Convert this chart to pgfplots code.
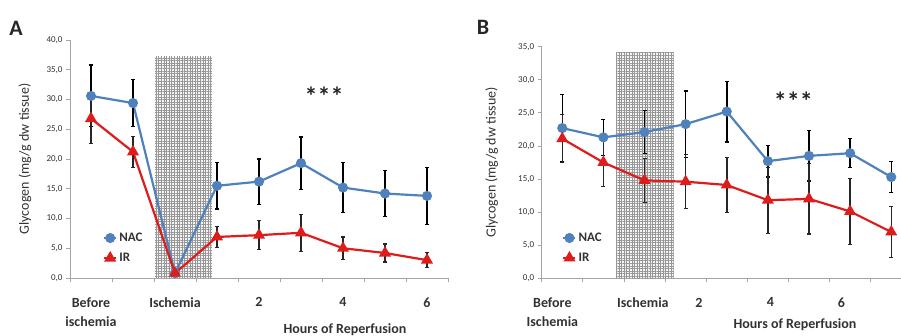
\documentclass[border=0pt]{standalone}
\usepackage{fontspec}
\setmainfont{Carlito}
\usepackage{pgfplots}
\usepackage{pgfplotstable}
\pgfplotsset{compat=1.18}
\usetikzlibrary{patterns.meta}
\definecolor{nacblue}{RGB}{79,129,189}
\definecolor{irred}{RGB}{222,28,28}
\definecolor{axgray}{RGB}{165,165,165}
\definecolor{txt}{RGB}{50,50,50}
\definecolor{hatch}{RGB}{150,150,150}

\pgfplotstableread{
x y e
0 30.6 5.2
1 29.4 4.0
2 0.8 0.3
3 15.5 3.9
4 16.2 3.8
5 19.3 4.4
6 15.2 4.2
7 14.2 3.8
8 13.8 4.8
}\nacA
\pgfplotstableread{
x y e
0 26.8 4.2
1 21.2 2.6
2 0.8 0.3
3 6.9 1.8
4 7.2 2.4
5 7.6 3.1
6 5.0 1.9
7 4.2 1.5
8 3.0 1.3
}\irA
\pgfplotstableread{
x y e
0 22.7 5.1
1 21.3 2.7
2 22.1 3.2
3 23.3 5.0
4 25.2 4.6
5 17.7 2.4
6 18.5 3.8
7 18.9 2.2
8 15.3 2.3
}\nacB
\pgfplotstableread{
x y e
0 21.1 3.6
1 17.5 3.6
2 14.8 3.3
3 14.6 4.1
4 14.1 4.1
5 11.8 5.0
6 12.0 5.3
7 10.1 5.0
8 7.0 3.8
}\irB

\tikzset{hatchbox/.style={pattern={Lines[angle=#1,distance=2.6pt,line width=0.4pt]}, pattern color=hatch}}

\pgfplotsset{
  glyc/.style={
    scale only axis,
    axis lines*=left,
    axis line style={axgray, line width=0.9pt},
    ymin=0, xmin=-0.5,
    ytick distance=5,
    tick align=outside,
    major tick length=4pt,
    minor tick length=4pt,
    ytick style={axgray, line width=0.8pt},
    major x tick style={draw=none},
    minor x tick style={axgray, line width=0.8pt},
    minor xtick={-0.5,0.5,...,8.5},
    yticklabel style={font=\fontsize{9}{10}\selectfont, color=txt},
    /pgf/number format/fixed,
    /pgf/number format/fixed zerofill,
    /pgf/number format/precision=1,
    /pgf/number format/use comma,
    /pgf/number format/assume math mode=true,
    xticklabel style={font=\fontsize{14}{19}\selectfont\bfseries, align=center, color=txt, yshift=-12pt},
    ylabel style={font=\fontsize{14}{16}\selectfont, color=txt, anchor=center},
    legend style={draw=none, fill=none, font=\fontsize{13}{14}\selectfont\bfseries, text=txt,
      row sep=6pt, inner sep=0pt, anchor=west, legend cell align=left},
    legend image code/.code={\draw[mark repeat=2,mark phase=2,##1] plot coordinates {(0pt,0pt)(6pt,0pt)(12pt,0pt)};},
    clip=false,
  },
  nac/.style={color=nacblue, line width=2.2pt, mark=*, mark size=3.9pt, mark options={solid, fill=nacblue, draw=nacblue}},
  ir/.style={color=irred, line width=2.2pt, mark=triangle*, mark size=4.8pt, mark options={solid, fill=irred, draw=irred}},
  eb/.style={error bars/.cd, y dir=both, y explicit,
    error bar style={#1, line width=1.5pt},
    error mark options={#1, line width=1.2pt, mark size=2pt, rotate=90}},
}

\begin{document}
\begin{tikzpicture}[x=1pt,y=1pt]
\useasboundingbox (0,0) rectangle (901,336);

% Panel A
\begin{axis}[glyc, at={(70pt,58pt)}, anchor=south west,
  width=378pt, height=238pt, xmax=8.5, ymax=40,
  xtick={0,2,4,6,8},
  xticklabels={{Before\\ischemia},Ischemia,2,4,6},
  ylabel={Glycogen (mg/g dw tissue)},
  ylabel style={at={(axis description cs:-0.119,0.5)}},
  legend style={at={(axis description cs:0.087,0.126)}},
]
\fill[gray!8] (axis cs:1.52,0) rectangle (axis cs:2.88,37.2);
\fill[hatchbox=0] (axis cs:1.52,0) rectangle (axis cs:2.88,37.2);
\fill[hatchbox=90] (axis cs:1.52,0) rectangle (axis cs:2.88,37.2);
\addplot[nac, eb=black] table[x=x,y=y,y error=e] {\nacA};
\addplot[ir, eb=black!85] table[x=x,y=y,y error=e] {\irA};
\legend{NAC,IR}
\node[font=\fontsize{26}{26}\selectfont\bfseries, text=black!85] at (axis cs:5.55,30.6) {***};
\end{axis}

% Panel B
\begin{axis}[glyc, at={(541.7pt,57.7pt)}, anchor=south west,
  width=359pt, height=231.6pt, xmax=8.23, ymax=35,
  xtick={-0.24,1.96,3.32,5.06,6.79},
  xticklabels={{Before\\Ischemia},Ischemia,2,4,6},
  ylabel={Glycogen (mg/g dw tissue)},
  ylabel style={at={(axis description cs:-0.139,0.5)}},
  legend style={at={(axis description cs:0.057,0.131)}},
]
\fill[gray!8] (axis cs:1.31,0) rectangle (axis cs:2.71,34.1);
\fill[hatchbox=0] (axis cs:1.31,0) rectangle (axis cs:2.71,34.1);
\fill[hatchbox=90] (axis cs:1.31,0) rectangle (axis cs:2.71,34.1);
\addplot[nac, eb=black] table[x=x,y=y,y error=e] {\nacB};
\addplot[ir, eb=black!85] table[x=x,y=y,y error=e] {\irB};
\legend{NAC,IR}
\node[font=\fontsize{26}{26}\selectfont\bfseries, text=black!85] at (axis cs:5.62,26.8) {***};
\end{axis}

\node[font=\fontsize{22}{22}\selectfont\bfseries, text=black!85] at (16,308) {A};
\node[font=\fontsize{22}{22}\selectfont\bfseries, text=black!85] at (483,309) {B};
\node[font=\fontsize{14}{16}\selectfont\bfseries, text=txt] at (345,6) {Hours of Reperfusion};
\node[font=\fontsize{14}{16}\selectfont\bfseries, text=txt] at (795,11) {Hours of Reperfusion};
\end{tikzpicture}
\end{document}
